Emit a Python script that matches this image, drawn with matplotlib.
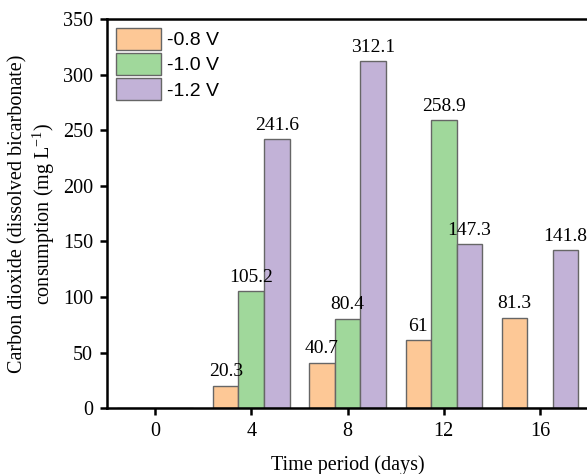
import numpy as np
import matplotlib.pyplot as plt

days = [0, 4, 8, 12, 16]
v08 = [0, 20.3, 40.7, 61, 81.3]
v10 = [0, 105.2, 80.4, 258.9, 0]
v12 = [0, 241.6, 312.1, 147.3, 141.8]
labels = ['-0.8 V', '-1.0 V', '-1.2 V']
colors = ['#FDC896', '#A0D89B', '#C2B2D7']

plt.rcParams['font.family'] = 'Liberation Serif'
plt.rcParams['axes.unicode_minus'] = False
fs = 14.5

fig = plt.figure(figsize=(5.87, 4.74), dpi=100)
ax = fig.add_axes([0.182, 0.139, 0.82, 0.821])

x = np.array(days)
w = 1.06
for i, (vals, lab, c) in enumerate(zip([v08, v10, v12], labels, colors)):
    pos = x + (i - 1) * w
    ax.bar(pos, vals, width=w, color=c, edgecolor='#666666', linewidth=1, label=lab)
    for p, v in zip(pos, vals):
        if v > 0:
            ax.annotate(f'{v:g}', (p, v), xytext=(0, 4), textcoords='offset points',
                        ha='center', va='bottom', fontsize=14)

ax.set_xlim(-2, 18)
ax.set_ylim(0, 350)
ax.set_xticks(days)
ax.set_yticks(range(0, 351, 50))
ax.tick_params(labelsize=fs, width=1.8, length=5, direction='out', pad=5)
for s in ax.spines.values():
    s.set_linewidth(1.8)
ax.spines['right'].set_visible(False)

ax.set_xlabel('Time period (days)', fontsize=fs, labelpad=10)
ax.set_ylabel('Carbon dioxide (dissolved bicarbonate)\nconsumption (mg L$^{\\mathregular{-1}}$)',
              fontsize=fs, linespacing=1.15)
ax.yaxis.set_label_coords(-0.103, 0.5)

ax.legend(loc='upper left', frameon=False, prop={'family': 'Liberation Sans', 'size': 14},
          handlelength=2.35, handleheight=1.35, handletextpad=0.3, labelspacing=0.18,
          borderaxespad=0.25, borderpad=0.2)

fig.savefig('out.png', dpi=100)
